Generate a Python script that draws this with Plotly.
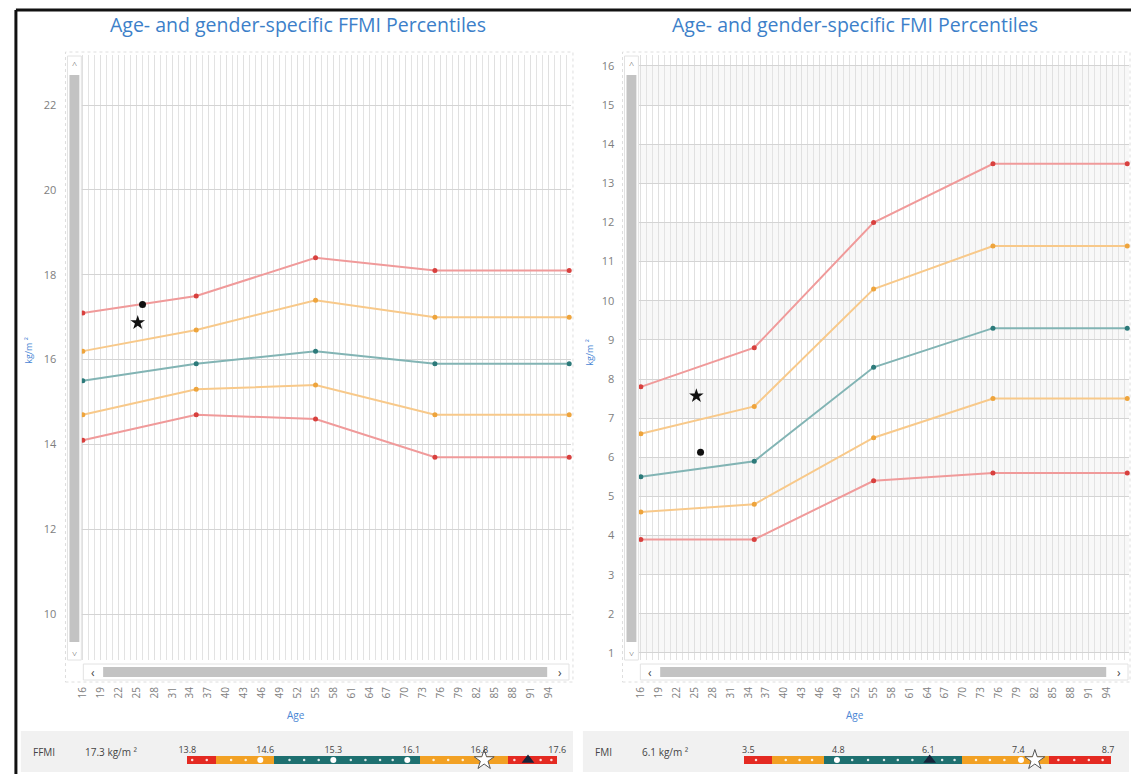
import plotly.graph_objects as go
import numpy as np

W, H = 1135, 774
def px(x): return x / W
def py(y): return 1 - y / H

# ---------------- data ----------------
ages = [16, 35, 55, 75, 97.5]
x_ticks = [16, 19, 22, 25, 28, 31, 34, 37, 40, 43, 46, 49, 52, 55, 58, 61, 64, 67, 70, 73, 76, 79, 82, 85, 88, 91, 94]

ffmi_p_high = [17.1, 17.5, 18.4, 18.1, 18.1]
ffmi_p_upper = [16.2, 16.7, 17.4, 17.0, 17.0]
ffmi_p_mid = [15.5, 15.9, 16.2, 15.9, 15.9]
ffmi_p_lower = [14.7, 15.3, 15.4, 14.7, 14.7]
ffmi_p_low = [14.1, 14.7, 14.6, 13.7, 13.7]

fmi_p_high = [7.8, 8.8, 12.0, 13.5, 13.5]
fmi_p_upper = [6.6, 7.3, 10.3, 11.4, 11.4]
fmi_p_mid = [5.5, 5.9, 8.3, 9.3, 9.3]
fmi_p_lower = [4.6, 4.8, 6.5, 7.5, 7.5]
fmi_p_low = [3.9, 3.9, 5.4, 5.6, 5.6]

ffmi_circle_age, ffmi_circle_val = [26], [17.3]
ffmi_star_age, ffmi_star_val = [25.2], [16.87]
fmi_star_age, fmi_star_val = [25.3], [7.57]
fmi_circle_age, fmi_circle_val = [26], [6.13]

# bottom range bars
ffmi_bounds = [13.8, 14.1, 14.7, 16.2, 17.1, 17.6]
ffmi_bar_ticks = [13.8, 14.6, 15.3, 16.1, 16.8, 17.6]
ffmi_big_dots = [14.55, 15.3, 16.06]
ffmi_small_dots = [13.85, 14.0, 14.25, 14.4, 14.85, 15.0, 15.15, 15.48, 15.63, 15.78, 15.91,
                   16.33, 16.48, 16.63, 17.16, 17.43, 17.54]
ffmi_bar_star = [16.85]
ffmi_bar_triangle = [17.3]

fmi_bounds = [3.45, 3.85, 4.6, 6.6, 7.85, 8.75]
fmi_bar_ticks = [3.5, 4.8, 6.1, 7.4, 8.7]
fmi_big_dots = [4.78, 7.44]
fmi_small_dots = [3.61, 4.04, 4.24, 4.42, 5.0, 5.23, 5.46, 5.66, 5.87, 6.3, 6.48, 6.79, 6.99, 7.2,
                  7.98, 8.21, 8.42, 8.62]
fmi_bar_star = [7.64]
fmi_bar_triangle = [6.12]

# ---------------- styles ----------------
line_cols = ['#f09a9a', '#f8c98a', '#82b4b4', '#f8c98a', '#f09a9a']
mark_cols = ['#d8403e', '#eea43c', '#2c7a7a', '#eea43c', '#d8403e']
seg_cols = ['#e42a22', '#f2a124', '#1e7070', '#f2a124', '#e42a22']
TITLE_BLUE = '#3c7fc9'
TICK_GRAY = '#7e7e7e'
FONT = 'Open Sans'

fig = go.Figure()

def add_lines(series, xa, ya):
    for vals, lc, mc in zip(series, line_cols, mark_cols):
        fig.add_trace(go.Scatter(x=ages, y=vals, xaxis=xa, yaxis=ya, mode='lines+markers',
                                 line=dict(color=lc, width=2),
                                 marker=dict(color=mc, size=5),
                                 showlegend=False, hoverinfo='skip', cliponaxis=False))

add_lines([ffmi_p_high, ffmi_p_upper, ffmi_p_mid, ffmi_p_lower, ffmi_p_low], 'x', 'y')
add_lines([fmi_p_high, fmi_p_upper, fmi_p_mid, fmi_p_lower, fmi_p_low], 'x2', 'y2')

for xa, ya, xs, ys, sym, sz in [
    ('x', 'y', ffmi_circle_age, ffmi_circle_val, 'circle', 7),
    ('x', 'y', ffmi_star_age, ffmi_star_val, 'star', 11),
    ('x2', 'y2', fmi_star_age, fmi_star_val, 'star', 11),
    ('x2', 'y2', fmi_circle_age, fmi_circle_val, 'circle', 7)]:
    fig.add_trace(go.Scatter(x=xs, y=ys, xaxis=xa, yaxis=ya, mode='markers',
                             marker=dict(color='#111111', size=sz, symbol=sym),
                             showlegend=False, hoverinfo='skip'))

def add_bar(bounds, big, small, star, tri, xa, ya):
    starts = bounds[:-1]
    widths = list(np.diff(bounds))
    fig.add_trace(go.Bar(x=widths, base=starts, y=[0] * len(widths), orientation='h',
                         marker=dict(color=seg_cols, line=dict(width=0)), width=1,
                         xaxis=xa, yaxis=ya, showlegend=False, hoverinfo='skip'))
    fig.add_trace(go.Scatter(x=small, y=[0] * len(small), xaxis=xa, yaxis=ya, mode='markers',
                             marker=dict(color='rgba(255,255,255,0.85)', size=2.5),
                             showlegend=False, hoverinfo='skip'))
    fig.add_trace(go.Scatter(x=big, y=[0] * len(big), xaxis=xa, yaxis=ya, mode='markers',
                             marker=dict(color='white', size=6),
                             showlegend=False, hoverinfo='skip'))
    fig.add_trace(go.Scatter(x=tri, y=[0] * len(tri), xaxis=xa, yaxis=ya, mode='markers',
                             marker=dict(color='#16243a', size=11, symbol='triangle-up'),
                             showlegend=False, hoverinfo='skip', cliponaxis=False))
    fig.add_trace(go.Scatter(x=star, y=[0] * len(star), xaxis=xa, yaxis=ya, mode='markers',
                             marker=dict(color='white', size=15, symbol='star',
                                         line=dict(color='#555555', width=1)),
                             showlegend=False, hoverinfo='skip', cliponaxis=False))

add_bar(ffmi_bounds, ffmi_big_dots, ffmi_small_dots, ffmi_bar_star, ffmi_bar_triangle, 'x3', 'y3')
add_bar(fmi_bounds, fmi_big_dots, fmi_small_dots, fmi_bar_star, fmi_bar_triangle, 'x4', 'y4')

# ---------------- axes ----------------
xcommon = dict(range=[15.75, 97.8], tickmode='array', tickvals=x_ticks, tickangle=-90,
               tickfont=dict(size=10, color=TICK_GRAY, family=FONT), ticklabelstandoff=24,
               showgrid=True, gridcolor='#e0e0e0', gridwidth=1,
               minor=dict(tick0=16, dtick=1, showgrid=True, gridcolor='#e3e3e3', gridwidth=1),
               zeroline=False, showline=False, ticks='', fixedrange=True)
ycommon = dict(tickfont=dict(size=11, color=TICK_GRAY, family=FONT), ticklabelstandoff=24,
               showgrid=True, gridcolor='#d4d4d4', zeroline=False, showline=False, ticks='',
               fixedrange=True)

fig.update_layout(
    xaxis=dict(domain=[px(76), px(570)], anchor='y', **xcommon),
    yaxis=dict(domain=[py(660), py(55)], anchor='x', range=[8.92, 23.18], tick0=0, dtick=2,
               **ycommon),
    xaxis2=dict(domain=[px(639), px(1133)], anchor='y2', **xcommon),
    yaxis2=dict(domain=[py(660), py(55)], anchor='x2', range=[0.82, 16.28], tick0=0, dtick=1,
                **ycommon),
    xaxis3=dict(domain=[px(178), px(561)], anchor='y3', range=[13.75, 17.65], side='top',
                tickmode='array', tickvals=ffmi_bar_ticks, ticktext=[f'{v:.1f}' for v in ffmi_bar_ticks],
                tickfont=dict(size=9, color='#444444', family=FONT), showgrid=False,
                zeroline=False, showline=False, ticks='', fixedrange=True),
    yaxis3=dict(domain=[py(764), py(756)], anchor='x3', range=[-0.5, 0.5], visible=False,
                fixedrange=True),
    xaxis4=dict(domain=[px(742), px(1120)], anchor='y4', range=[3.4, 8.815], side='top',
                tickmode='array', tickvals=fmi_bar_ticks, ticktext=[f'{v:.1f}' for v in fmi_bar_ticks],
                tickfont=dict(size=9, color='#444444', family=FONT), showgrid=False,
                zeroline=False, showline=False, ticks='', fixedrange=True),
    yaxis4=dict(domain=[py(764), py(756)], anchor='x4', range=[-0.5, 0.5], visible=False,
                fixedrange=True),
    width=W, height=H, margin=dict(l=0, r=0, t=0, b=0),
    paper_bgcolor='white', plot_bgcolor='white',
    font=dict(family=FONT), showlegend=False, bargap=0,
)

# ---------------- decorations ----------------
shapes = []
def prect(x0, y0, x1, y1, fill=None, line=None, lw=0, layer='below', dash=None):
    d = dict(type='rect', xref='paper', yref='paper', x0=px(x0), x1=px(x1), y0=py(y1), y1=py(y0),
             layer=layer, line=dict(width=lw, color=line or 'rgba(0,0,0,0)'))
    if dash:
        d['line']['dash'] = dash
    if fill:
        d['fillcolor'] = fill
    shapes.append(d)

# bottom strips
prect(15, 731, 572, 772, fill='#f1f1f1')
prect(582, 731, 1133, 772, fill='#f1f1f1')

# subtle alternate bands on FMI chart
for k in range(1, 17, 2):
    shapes.append(dict(type='rect', xref='x2 domain', yref='y2', x0=0, x1=1, y0=k, y1=k + 1,
                       fillcolor='#f8f8f8', line=dict(width=0), layer='below'))

# chart region outlines (dotted)
prect(60, 52, 572, 682, line='#dedede', lw=1, dash='dot', layer='below')
prect(622, 52, 1134, 682, line='#dedede', lw=1, dash='dot', layer='below')

# scrollbars
for (vx0, hx0, hx1) in [(62, 78, 568), (624, 640, 1132)]:
    prect(vx0, 56, vx0 + 14, 660, fill='white', line='#e2e2e2', lw=1, layer='above')
    prect(vx0 + 2, 75, vx0 + 12, 642, fill='#c3c3c3', layer='above')
    prect(hx0, 664, hx1, 680, fill='white', line='#e2e2e2', lw=1, layer='above')
    prect(hx0 + 20, 667, hx1 - 22, 677, fill='#c3c3c3', layer='above')

# outer frame
shapes.append(dict(type='line', xref='paper', yref='paper', x0=px(10), x1=1, y0=py(10), y1=py(10),
                   line=dict(color='#111111', width=3), layer='above'))
shapes.append(dict(type='line', xref='paper', yref='paper', x0=px(10), x1=px(10), y0=py(10), y1=0,
                   line=dict(color='#111111', width=3), layer='above'))

fig.update_layout(shapes=shapes)

ann = []
def text(x, y, s, size=10, color='#555555', angle=0, xanchor='center'):
    ann.append(dict(xref='paper', yref='paper', x=px(x), y=py(y), text=s, showarrow=False,
                    font=dict(size=size, color=color, family=FONT), textangle=angle,
                    xanchor=xanchor, yanchor='middle'))

text(295, 24, 'Age- and gender-specific FFMI Percentiles', size=19.5, color=TITLE_BLUE)
text(857, 24, 'Age- and gender-specific FMI Percentiles', size=19.5, color=TITLE_BLUE)
text(22, 350, 'kg/m ²', size=9, color='#4a86d4', angle=-90)
text(588, 352, 'kg/m ²', size=9, color='#4a86d4', angle=-90)
text(293, 715, 'Age', size=10, color='#4a86d4')
text(857, 715, 'Age', size=10, color='#4a86d4')

# scrollbar arrows
for vx, hx0, hx1 in [(69, 88, 559), (631, 650, 1123)]:
    text(vx, 63, '˄', size=9, color='#555555')
    text(vx, 653, '˅', size=9, color='#555555')
    text(hx0, 672, '‹', size=12, color='#444444')
    text(hx1, 672, '›', size=12, color='#444444')

text(25, 752, 'FFMI', size=10, color='#444444', xanchor='left')
text(78, 752, '17.3 kg/m ²', size=10, color='#444444', xanchor='left')
text(592, 752, 'FMI', size=10, color='#444444', xanchor='left')
text(640, 752, '6.1 kg/m ²', size=10, color='#444444', xanchor='left')

fig.update_layout(annotations=ann)

fig.write_html('out.html')
